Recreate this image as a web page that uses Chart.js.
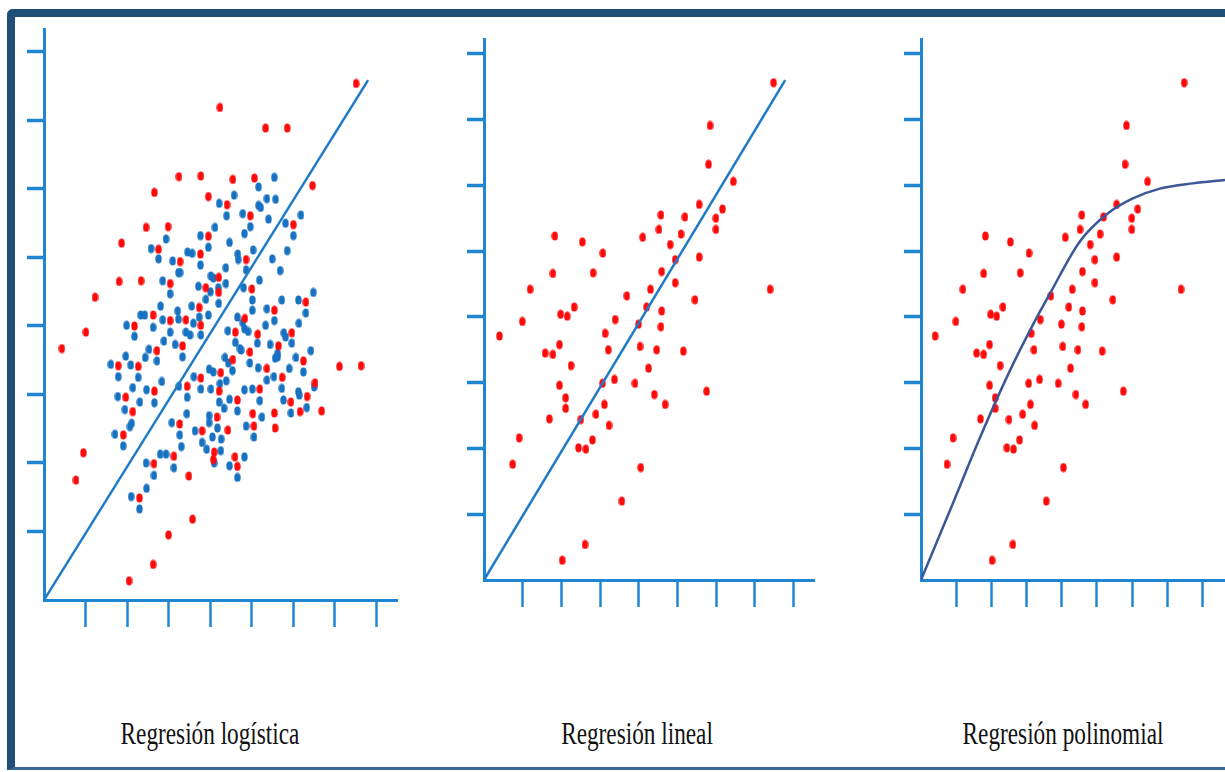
<!DOCTYPE html>
<html>
<head>
<meta charset="utf-8">
<script src="https://cdn.jsdelivr.net/npm/chart.js@4"></script>
<style>
  body { margin: 0; background: #fff; width: 1225px; height: 772px; overflow: hidden; position: relative; }
  .frame { position: absolute; left: 7px; top: 9px; right: -20px; bottom: 2px;
    border-left: 8px solid #1f4e79; border-top: 8px solid #1f4e79; border-bottom: 3px solid #3a6896;
    border-top-left-radius: 6px; }
  canvas { position: absolute; }
  .title { position: absolute; top: 716px; font-family: "Liberation Serif", "DejaVu Serif", serif;
    font-size: 31px; line-height: 36px; color: #111; white-space: nowrap;
    transform: translateX(-50%) scaleX(0.75); }
</style>
</head>
<body>
<div class="frame"></div>
<canvas id="c1" width="371" height="599" style="left:27px;top:28px"></canvas>
<canvas id="c2" width="348" height="569" style="left:467px;top:38px"></canvas>
<canvas id="c3" width="321" height="569" style="left:904px;top:38px"></canvas>
<div class="title" style="left:210px">Regresión logística</div>
<div class="title" style="left:637px">Regresión lineal</div>
<div class="title" style="left:1063px">Regresión polinomial</div>
<script>
const xTicks = [1, 2, 3, 4, 5, 6, 7, 8];
const yTicks = [1, 2, 3, 4, 5, 6, 7, 8];

// panel 1 - regresión logística
const logRedX = [7.52,4.24,5.34,5.86,3.25,3.78,4.55,5.07,6.47,2.66,
  3.96,4.41,4.97,2.46,2.99,6.01,3.96,1.87,2.76,3.77,
  4.87,3.28,1.81,2.34,3.04,4.21,3.90,4.21,5.01,1.23,
  6.31,3.74,5.55,2.63,3.04,3.42,3.78,4.84,2.18,4.61,
  5.15,5.97,3.34,5.65,2.72,1.79,2.27,4.96,5.37,4.55,
  4.26,3.78,3.45,6.25,5.74,7.12,7.64,6.53,2.66,1.97,
  2.14,4.22,4.66,5.20,5.95,6.34,6.17,6.69,5.55,5.57,
  5.03,5.06,4.17,4.43,3.27,3.81,4.10,4.08,4.60,4.66,
  1.91,3.13,3.49,2.65,2.30,3.58,3.00,2.63,2.05,0.95,
  0.77,0.43,1.01];
const logRedY = [7.54,7.19,6.89,6.89,6.18,6.19,6.14,6.16,6.05,5.95,
  5.89,5.77,5.61,5.44,5.45,5.48,5.31,5.21,5.12,5.05,
  4.97,4.94,4.65,4.66,4.62,4.71,4.56,4.49,4.54,4.42,
  4.35,4.27,4.23,4.16,4.08,4.09,4.01,4.11,4.00,3.91,
  3.88,3.90,3.71,3.71,3.64,3.42,3.41,3.62,3.38,3.51,
  3.32,3.24,3.12,3.49,3.25,3.41,3.42,3.17,3.05,2.96,
  2.75,3.05,2.92,3.08,2.89,2.97,2.75,2.76,2.73,2.51,
  2.72,2.54,2.67,2.48,2.57,2.47,2.16,2.05,2.09,1.95,
  2.41,2.10,1.81,1.99,1.49,1.18,0.95,0.52,0.28,2.15,
  1.75,3.67,3.91];
const logBlueX = [5.55,5.17,4.58,5.37,5.58,4.22,5.17,5.22,4.40,4.79,
  5.41,5.82,6.19,4.12,4.97,4.83,6.01,3.77,2.94,4.47,
  3.96,2.58,3.46,3.57,4.67,5.04,5.86,2.76,3.10,4.68,
  5.50,3.77,3.24,3.28,4.87,5.69,4.02,4.08,2.86,4.38,
  5.19,3.72,4.20,4.81,3.04,4.01,3.90,5.73,6.13,6.49,
  5.02,4.21,2.81,3.56,5.02,5.37,4.38,6.31,2.43,2.33,
  2.86,3.22,3.24,3.60,3.74,3.96,4.66,4.79,5.55,5.34,
  6.14,1.99,2.18,2.63,3.04,3.42,3.52,3.78,4.43,4.92,
  5.78,5.82,2.89,3.16,3.34,4.61,4.75,5.14,5.45,5.63,
  5.97,6.43,2.53,2.72,2.44,1.97,1.61,1.79,2.09,2.27,
  4.96,5.16,5.37,5.57,5.63,5.54,4.54,4.36,4.44,3.98,
  4.08,4.24,4.39,3.78,3.61,3.45,3.25,2.84,6.07,6.25,
  5.91,5.73,6.51,2.66,2.47,2.14,1.78,1.95,2.11,2.07,
  2.31,4.02,4.22,4.47,4.34,4.66,4.83,5.02,5.20,5.77,
  5.95,6.13,6.15,6.33,5.25,5.06,4.87,3.98,3.98,4.18,
  4.27,4.06,3.44,3.27,3.08,3.31,3.81,3.64,3.92,4.10,
  4.26,4.66,4.83,4.47,1.71,1.91,2.80,2.94,3.13,2.46,
  2.65,2.47,2.10,2.30,4.83,4.72];
const logBlueY = [6.17,6.03,5.91,5.86,5.85,5.79,5.76,5.73,5.61,5.64,
  5.56,5.50,5.62,5.44,5.45,5.35,5.32,5.32,5.27,5.22,
  5.15,5.13,5.08,5.06,5.05,5.11,5.10,4.98,4.95,4.97,
  4.98,4.89,4.78,4.78,4.82,4.81,4.73,4.70,4.66,4.62,
  4.67,4.58,4.56,4.56,4.47,4.50,4.39,4.38,4.38,4.49,
  4.38,4.33,4.29,4.29,4.23,4.25,4.85,4.19,4.16,4.16,
  4.09,4.22,4.10,4.04,4.13,4.16,4.13,4.05,4.08,4.01,
  4.04,4.01,3.85,3.98,3.91,3.91,3.87,3.87,3.93,3.92,
  3.90,3.84,3.78,3.73,3.55,3.76,3.65,3.75,3.73,3.60,
  3.75,3.64,3.66,3.49,3.54,3.56,3.44,3.26,3.43,3.25,
  3.46,3.39,3.21,3.53,3.55,3.26,3.35,3.54,3.46,3.37,
  3.33,3.16,3.20,3.08,3.26,2.96,3.12,3.19,3.54,3.33,
  3.38,3.09,3.11,2.88,3.07,3.10,2.97,2.78,2.58,2.53,
  2.89,3.08,2.89,2.93,2.80,2.76,3.07,3.08,2.91,2.92,
  2.73,3.04,2.99,2.81,2.67,2.38,2.54,2.69,2.59,2.51,
  2.35,2.38,2.72,2.41,2.59,2.24,2.30,2.47,2.20,2.00,
  2.18,1.79,2.09,1.96,2.42,2.25,2.13,2.13,1.93,2.00,
  1.82,1.63,1.51,1.33,3.96,3.67];
const logLineX = [0, 7.81];
const logLineY = [0, 7.59];

// panels 2 and 3 use the same red points
const ptsX = [7.48,5.84,5.80,6.44,5.56,6.16,4.57,5.19,5.99,4.52,
  5.99,5.09,1.83,4.10,2.54,4.81,3.07,4.94,5.56,1.78,
  2.82,4.59,4.94,1.19,4.30,7.39,3.69,5.45,2.33,4.20,
  1.98,2.15,4.59,0.99,3.39,3.99,4.57,0.40,3.13,1.95,
  1.58,1.78,3.21,4.03,4.46,5.15,2.25,4.25,1.95,3.06,
  3.37,3.90,5.75,2.11,4.40,2.11,3.11,4.68,1.69,2.50,
  2.89,3.23,0.91,2.80,2.44,2.63,0.74,4.05,3.56,2.61,
  2.02];
const ptsY = [7.56,6.91,6.32,6.06,5.71,5.64,5.55,5.52,5.50,5.33,
  5.33,5.26,5.23,5.21,5.14,5.10,4.97,4.87,4.91,4.66,
  4.67,4.69,4.52,4.42,4.42,4.42,4.32,4.26,4.15,4.15,
  4.04,4.01,4.09,3.93,3.96,3.89,3.85,3.71,3.75,3.58,
  3.45,3.43,3.50,3.55,3.50,3.48,3.26,3.22,2.96,2.99,
  3.05,2.99,2.87,2.77,2.82,2.61,2.67,2.67,2.45,2.44,
  2.52,2.35,2.16,2.13,2.01,1.99,1.76,1.71,1.20,0.54,
  0.30];
const linLineX = [0, 7.78];
const linLineY = [0, 7.60];
const curveX = [0, 0.94, 1.68, 2.48, 3.19, 3.66, 4.52, 5.28, 6.02, 6.79, 7.73, 8.64];
const curveY = [0, 1.21, 2.17, 3.13, 3.89, 4.35, 5.15, 5.56, 5.80, 5.95, 6.03, 6.08];

const AXIS = "#2186d2";
const RED = "#ff0a0a";
const BLUE = "#1872c2";

function dot(color) {
  const c = document.createElement("canvas");
  c.width = 7; c.height = 10;
  const g = c.getContext("2d");
  g.fillStyle = color;
  g.beginPath();
  g.ellipse(3.5, 5, 3.2, 4.6, 0, 0, Math.PI * 2);
  g.fill();
  return c;
}
const redDot = dot(RED);
const blueDot = dot(BLUE);

const zip = (xs, ys) => xs.map((x, i) => ({ x, y: ys[i] }));

function scales(xMax, yMax) {
  return {
    x: {
      type: "linear", min: 0, max: xMax,
      afterBuildTicks: s => { s.ticks = xTicks.map(v => ({ value: v })); },
      ticks: { display: false },
      grid: { drawOnChartArea: false, tickLength: 27, tickColor: AXIS, tickWidth: 2.5 },
      border: { color: AXIS, width: 3 }
    },
    y: {
      type: "linear", min: 0, max: yMax,
      afterBuildTicks: s => { s.ticks = yTicks.map(v => ({ value: v })); },
      ticks: { display: false },
      grid: { drawOnChartArea: false, tickLength: 17, tickColor: AXIS, tickWidth: 3.5 },
      border: { color: AXIS, width: 3 }
    }
  };
}

function opts(xMax, yMax) {
  return {
    responsive: false,
    animation: false,
    devicePixelRatio: 1,
    layout: { padding: 0, autoPadding: false },
    plugins: { legend: { display: false }, tooltip: { enabled: false } },
    scales: scales(xMax, yMax)
  };
}

function lineSet(data, color, extra) {
  return Object.assign({
    type: "line", data, borderColor: color, borderWidth: 2.5,
    pointRadius: 0, fill: false, showLine: true
  }, extra || {});
}

new Chart(document.getElementById("c1"), {
  type: "scatter",
  data: {
    datasets: [
      lineSet(zip(logLineX, logLineY), "#1f7bc8"),
      { data: zip(logRedX, logRedY), pointStyle: redDot },
      { data: zip(logBlueX, logBlueY), pointStyle: blueDot }
    ]
  },
  options: opts(8.53, 8.35)
});

new Chart(document.getElementById("c2"), {
  type: "scatter",
  data: {
    datasets: [
      lineSet(zip(linLineX, linLineY), "#1f7bc8"),
      { data: zip(ptsX, ptsY), pointStyle: redDot }
    ]
  },
  options: opts(8.55, 8.24)
});

new Chart(document.getElementById("c3"), {
  type: "scatter",
  data: {
    datasets: [
      lineSet(zip(curveX, curveY), "#3a5796", { cubicInterpolationMode: "monotone" }),
      { data: zip(ptsX, ptsY), pointStyle: redDot }
    ]
  },
  options: opts(8.64, 8.24)
});
</script>
</body>
</html>
